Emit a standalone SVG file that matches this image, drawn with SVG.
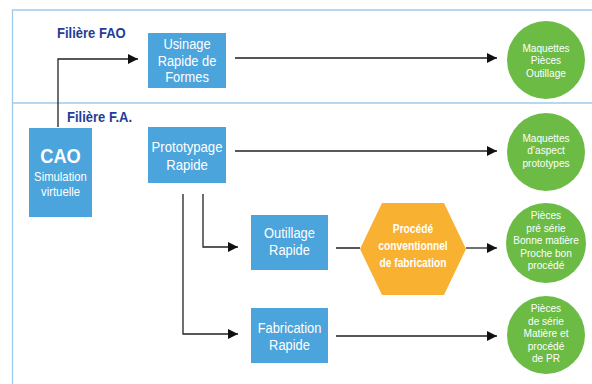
<svg xmlns="http://www.w3.org/2000/svg" width="592" height="384" viewBox="0 0 592 384">
<defs>
<style>
.frame{stroke:#9fcaec;stroke-width:1.3;fill:none}
.box{fill:#4ba4dc}
.circ{fill:#6bbb45}
.hex{fill:#f8b131}
.bt{font-family:"Liberation Sans",Arial,sans-serif;font-size:14px;fill:#fff;text-anchor:middle}
.ct{font-family:"Liberation Sans",Arial,sans-serif;font-size:11px;fill:#fff;text-anchor:middle}
.ht{font-family:"Liberation Sans",Arial,sans-serif;font-size:13.5px;font-weight:bold;fill:#fff;text-anchor:middle}
.lbl{font-family:"Liberation Sans",Arial,sans-serif;font-size:14px;font-weight:bold;fill:#1f3d99}
.ln{stroke:#222;stroke-width:1.3;fill:none}
.lg{stroke:#555;stroke-width:2;fill:none}
</style>
<marker id="ah" viewBox="0 0 10 10" refX="10" refY="5" markerWidth="10" markerHeight="10" markerUnits="userSpaceOnUse" orient="auto">
<path d="M0,0 L10,5 L0,10 z" fill="#111"/>
</marker>
</defs>
<rect width="592" height="384" fill="#fff"/>
<g id="frame">
<path class="frame" d="M592,10 H12.5 V384"/>
<path class="frame" d="M12.5,103 H592"/>
</g>
<g id="labels">
<text class="lbl" x="57" y="38" transform="translate(57,0) scale(0.93,1) translate(-57,0)">Filière FAO</text>
<text class="lbl" x="67" y="122" transform="translate(67,0) scale(0.93,1) translate(-67,0)">Filière F.A.</text>
</g>
<g id="connectors">
<path class="ln" d="M58,127 V59 H138" marker-end="url(#ah)"/>
<path class="lg" d="M235,58 H497" marker-end="url(#ah)"/>
<path class="ln" d="M235,151 H497" marker-end="url(#ah)"/>
<path class="ln" d="M203,194 V247 H238" marker-end="url(#ah)"/>
<path class="ln" d="M183,194 V334 H238" marker-end="url(#ah)"/>
<path class="lg" d="M336,248 H360"/>
<path class="ln" d="M466,248 H497" marker-end="url(#ah)"/>
<path class="lg" d="M336,336 H497" marker-end="url(#ah)"/>
</g>
<g id="cao">
<rect class="box" x="29" y="128" width="63" height="89"/>
<g transform="translate(60.5,0) scale(0.87,1)">
<text class="bt" x="0" y="163" style="font-size:21px;font-weight:bold">CAO</text>
<text class="bt" x="0" y="181" style="font-size:13px">Simulation</text>
<text class="bt" x="0" y="196" style="font-size:13px">virtuelle</text>
</g>
</g>
<g id="usinage">
<rect class="box" x="148" y="33" width="78" height="55"/>
<g transform="translate(187,0) scale(0.92,1)">
<text class="bt" x="0" y="49">Usinage</text>
<text class="bt" x="0" y="66">Rapide de</text>
<text class="bt" x="0" y="82">Formes</text>
</g>
</g>
<g id="prototypage">
<rect class="box" x="148" y="127" width="78" height="56"/>
<g transform="translate(187,0) scale(0.94,1)">
<text class="bt" x="0" y="152">Prototypage</text>
<text class="bt" x="0" y="170">Rapide</text>
</g>
</g>
<g id="outillage">
<rect class="box" x="251" y="215" width="77" height="55"/>
<g transform="translate(289.5,0) scale(0.92,1)">
<text class="bt" x="0" y="238">Outillage</text>
<text class="bt" x="0" y="255">Rapide</text>
</g>
</g>
<g id="fabrication">
<rect class="box" x="251" y="308" width="77" height="55"/>
<g transform="translate(289.5,0) scale(0.92,1)">
<text class="bt" x="0" y="333">Fabrication</text>
<text class="bt" x="0" y="350">Rapide</text>
</g>
</g>
<g id="procede">
<polygon class="hex" points="360,249 382,203 444,203 466,249 444,295 382,295"/>
<g transform="translate(413,0) scale(0.76,1)">
<text class="ht" x="0" y="233">Procédé</text>
<text class="ht" x="0" y="250">conventionnel</text>
<text class="ht" x="0" y="267">de fabrication</text>
</g>
</g>
<g id="res1">
<circle class="circ" cx="546" cy="60" r="39"/>
<g transform="translate(546,0) scale(0.92,1)">
<text class="ct" x="0" y="52">Maquettes</text>
<text class="ct" x="0" y="64.5">Pièces</text>
<text class="ct" x="0" y="77">Outillage</text>
</g>
</g>
<g id="res2">
<circle class="circ" cx="546" cy="152" r="39"/>
<g transform="translate(546,0) scale(0.92,1)">
<text class="ct" x="0" y="142">Maquettes</text>
<text class="ct" x="0" y="154.5">d’aspect</text>
<text class="ct" x="0" y="167">prototypes</text>
</g>
</g>
<g id="res3">
<circle class="circ" cx="546" cy="243" r="40"/>
<g transform="translate(546,0) scale(0.92,1)">
<text class="ct" x="0" y="219.5">Pièces</text>
<text class="ct" x="0" y="232">pré série</text>
<text class="ct" x="0" y="244.5">Bonne matière</text>
<text class="ct" x="0" y="257">Proche bon</text>
<text class="ct" x="0" y="269.5">procédé</text>
</g>
</g>
<g id="res4">
<circle class="circ" cx="546" cy="335" r="39"/>
<g transform="translate(546,0) scale(0.92,1)">
<text class="ct" x="0" y="312.5">Pièces</text>
<text class="ct" x="0" y="325">de série</text>
<text class="ct" x="0" y="337.5">Matière et</text>
<text class="ct" x="0" y="350">procédé</text>
<text class="ct" x="0" y="362.5">de PR</text>
</g>
</g>
</svg>
